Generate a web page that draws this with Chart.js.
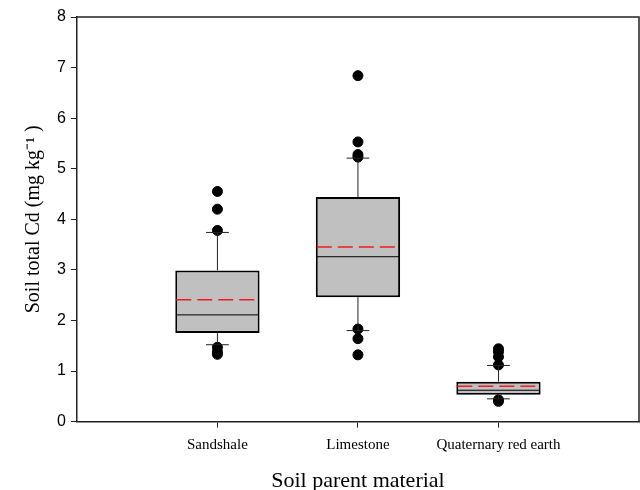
<!DOCTYPE html>
<html lang="en">
<head>
    <meta charset="UTF-8">
    <title>Soil total Cd by parent material</title>
    <script src="https://cdn.jsdelivr.net/npm/chart.js"></script>
    <style>
        body { margin: 0; background: #fff; overflow: hidden; }
        #wrap { width: 640px; height: 490px; overflow: hidden; }
    </style>
</head>
<body>
    <div id="wrap">
        <canvas id="myChart" width="645" height="490"></canvas>
    </div>

    <script>
        // data
        const categories = ["Sandshale", "Limestone", "Quaternary red earth"];
        const positions = [1, 2, 3];
        const q1 = [1.75, 2.46, 0.53];
        const q3 = [2.99, 4.44, 0.79];
        const medians = [2.11, 3.26, 0.62];
        const means = [2.41, 3.45, 0.70];
        const whiskerLow = [1.52, 1.80, 0.45];
        const whiskerHigh = [3.74, 5.21, 1.11];
        const outliers = [
            [4.55, 4.20, 3.78, 1.47, 1.38, 1.33],
            [6.84, 5.53, 5.28, 5.23, 1.83, 1.64, 1.32],
            [1.44, 1.38, 1.28, 1.12, 0.43, 0.40]
        ];
        const yTicks = [0, 1, 2, 3, 4, 5, 6, 7, 8];

        const boxData = positions.map((x, i) => ({ x: x, y: [q1[i], q3[i]] }));
        const outlierData = [];
        outliers.forEach((list, i) => {
            list.forEach(v => outlierData.push({ x: positions[i], y: v }));
        });

        // whiskers, caps, median and mean lines drawn on the scales
        const boxLines = {
            id: "boxLines",
            afterDatasetsDraw(chart) {
                const ctx = chart.ctx;
                const xs = chart.scales.x, ys = chart.scales.y;
                const bars = chart.getDatasetMeta(0).data;
                ctx.save();
                positions.forEach((p, i) => {
                    const cx = xs.getPixelForValue(p);
                    const half = bars[i].width / 2;
                    const cap = half * 0.27;
                    ctx.strokeStyle = "#222";
                    ctx.lineWidth = 1;
                    ctx.setLineDash([]);
                    ctx.beginPath();
                    ctx.moveTo(cx, ys.getPixelForValue(q3[i]));
                    ctx.lineTo(cx, ys.getPixelForValue(whiskerHigh[i]));
                    ctx.moveTo(cx, ys.getPixelForValue(q1[i]));
                    ctx.lineTo(cx, ys.getPixelForValue(whiskerLow[i]));
                    ctx.moveTo(cx - cap, ys.getPixelForValue(whiskerHigh[i]));
                    ctx.lineTo(cx + cap, ys.getPixelForValue(whiskerHigh[i]));
                    ctx.moveTo(cx - cap, ys.getPixelForValue(whiskerLow[i]));
                    ctx.lineTo(cx + cap, ys.getPixelForValue(whiskerLow[i]));
                    ctx.stroke();

                    // median
                    ctx.strokeStyle = "#000";
                    ctx.beginPath();
                    ctx.moveTo(cx - half + 1, ys.getPixelForValue(medians[i]));
                    ctx.lineTo(cx + half - 1, ys.getPixelForValue(medians[i]));
                    ctx.stroke();

                    // mean
                    ctx.strokeStyle = "#ee1c1c";
                    ctx.lineWidth = 1.5;
                    ctx.setLineDash([15, 6]);
                    ctx.beginPath();
                    ctx.moveTo(cx - half + 1, ys.getPixelForValue(means[i]));
                    ctx.lineTo(cx + half - 1, ys.getPixelForValue(means[i]));
                    ctx.stroke();
                });
                ctx.restore();
            }
        };

        // top and right frame lines
        const frame = {
            id: "frame",
            afterDraw(chart) {
                const a = chart.chartArea;
                const ctx = chart.ctx;
                ctx.save();
                ctx.strokeStyle = "#222";
                ctx.lineWidth = 1.5;
                ctx.beginPath();
                ctx.moveTo(a.left, a.top);
                ctx.lineTo(a.right, a.top);
                ctx.lineTo(a.right, a.bottom);
                ctx.stroke();
                ctx.restore();
            }
        };

        new Chart(document.getElementById("myChart"), {
            type: "bar",
            data: {
                datasets: [
                    {
                        label: "box",
                        data: boxData,
                        backgroundColor: "#c0c0c0",
                        borderColor: "#000",
                        borderWidth: 2,
                        borderSkipped: false,
                        barPercentage: 0.6,
                        categoryPercentage: 1.0,
                        order: 2
                    },
                    {
                        type: "scatter",
                        label: "outliers",
                        data: outlierData,
                        backgroundColor: "#000",
                        borderColor: "#000",
                        pointRadius: 5,
                        order: 1
                    }
                ]
            },
            options: {
                responsive: false,
                animation: false,
                layout: { padding: { top: 17, right: 0, left: 22, bottom: -4 } },
                plugins: {
                    legend: { display: false },
                    tooltip: { enabled: false }
                },
                scales: {
                    x: {
                        type: "linear",
                        min: 0,
                        max: 4,
                        offset: false,
                        afterBuildTicks(axis) {
                            axis.ticks = positions.map(v => ({ value: v }));
                        },
                        ticks: {
                            callback: v => categories[positions.indexOf(v)] || "",
                            color: "#000",
                            font: { family: "Liberation Serif", size: 15 },
                            maxRotation: 0,
                            padding: 8
                        },
                        grid: {
                            offset: false,
                            drawOnChartArea: false,
                            tickLength: 6,
                            tickColor: "#222"
                        },
                        border: { color: "#222", width: 1.5 },
                        title: {
                            display: true,
                            text: "Soil parent material",
                            color: "#000",
                            font: { family: "Liberation Serif", size: 22 },
                            padding: { top: 6, bottom: 0 }
                        }
                    },
                    y: {
                        min: 0,
                        max: 8,
                        afterBuildTicks(axis) {
                            axis.ticks = yTicks.map(v => ({ value: v }));
                        },
                        ticks: {
                            color: "#000",
                            font: { family: "Liberation Sans", size: 16 },
                            padding: 5
                        },
                        grid: {
                            drawOnChartArea: false,
                            tickLength: 6,
                            tickColor: "#222"
                        },
                        border: { color: "#222", width: 1.5 },
                        title: {
                            display: true,
                            text: "Soil total Cd (mg kg\u207B\u00B9 )",
                            color: "#000",
                            font: { family: "Liberation Serif", size: 20 },
                            padding: { top: 0, bottom: 6 }
                        }
                    }
                }
            },
            plugins: [boxLines, frame]
        });
    </script>
</body>
</html>
